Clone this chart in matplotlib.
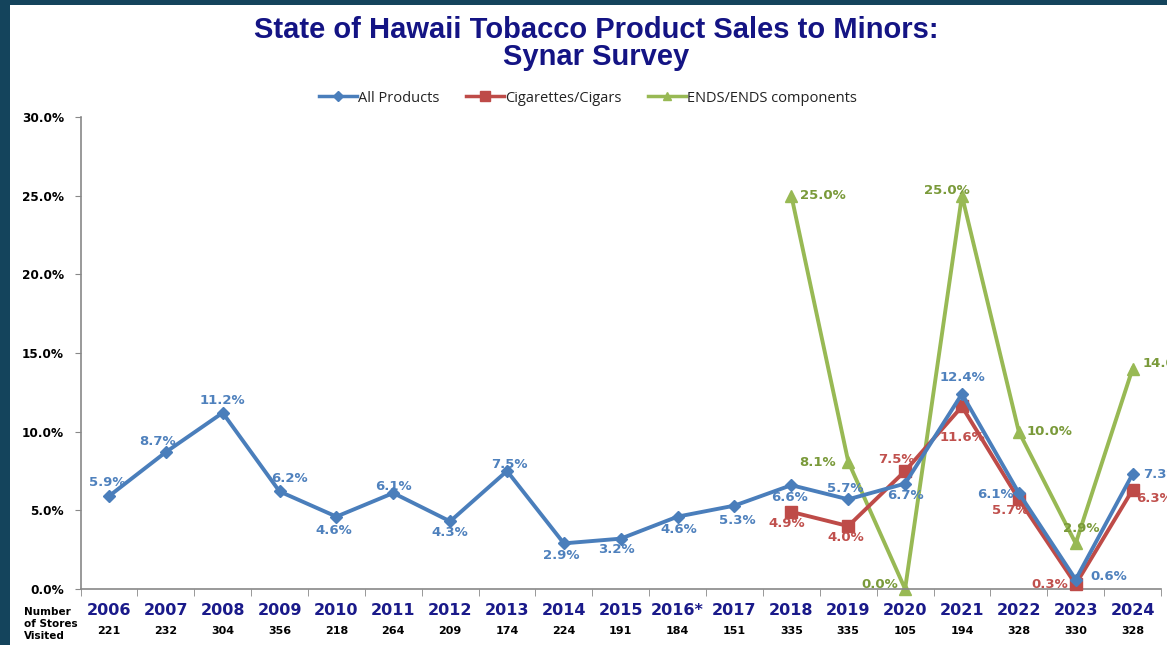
import matplotlib
matplotlib.use("Agg")
import matplotlib.pyplot as plt
from matplotlib.patches import Rectangle
import matplotlib.transforms as mtrans

years = ["2006", "2007", "2008", "2009", "2010", "2011", "2012", "2013", "2014",
         "2015", "2016*", "2017", "2018", "2019", "2020", "2021", "2022", "2023", "2024"]
stores = ["221", "232", "304", "356", "218", "264", "209", "174", "224",
          "191", "184", "151", "335", "335", "105", "194", "328", "330", "328"]
all_products = [5.9, 8.7, 11.2, 6.2, 4.6, 6.1, 4.3, 7.5, 2.9, 3.2, 4.6, 5.3,
                6.6, 5.7, 6.7, 12.4, 6.1, 0.6, 7.3]
cig_years = ["2018", "2019", "2020", "2021", "2022", "2023", "2024"]
cigarettes = [4.9, 4.0, 7.5, 11.6, 5.7, 0.3, 6.3]
ends = [25.0, 8.1, 0.0, 25.0, 10.0, 2.9, 14.0]
yticks = [0, 5, 10, 15, 20, 25, 30]

W, H = 1167, 645
fig = plt.figure(figsize=(W / 100, H / 100), dpi=100)
fig.patch.set_facecolor("white")
border = "#14445c"
fig.patches.append(Rectangle((0, 0), 10 / W, 1, transform=fig.transFigure,
                             facecolor=border, edgecolor="none", zorder=-10))
fig.patches.append(Rectangle((0, 1 - 5 / H), 1, 5 / H, transform=fig.transFigure,
                             facecolor=border, edgecolor="none", zorder=-10))

ax = fig.add_axes([80.5 / W, (H - 589) / H, (1161 - 80.5) / W, (589 - 117) / H])
ax.set_facecolor("none")

x_all = list(range(len(years)))
x_sub = [years.index(y) for y in cig_years]

c_blue, c_red, c_green = "#4a7ebb", "#be4b48", "#98b954"
t_blue, t_red, t_green = "#4f81bd", "#c0504d", "#7a9a3a"

ax.plot(x_all, all_products, color=c_blue, lw=2.8, marker="D", ms=6, label="All Products", zorder=4, clip_on=False)
ax.plot(x_sub, cigarettes, color=c_red, lw=2.8, marker="s", ms=8, label="Cigarettes/Cigars", zorder=3, clip_on=False)
ax.plot(x_sub, ends, color=c_green, lw=2.8, marker="^", ms=8, label="ENDS/ENDS components", zorder=2, clip_on=False)

ax.set_xlim(-0.5, len(years) - 0.5)
ax.set_ylim(0, 30)
ax.set_yticks(yticks)
ax.set_yticklabels([f"{v:.1f}%" for v in yticks], fontsize=8.7, fontweight="bold", family="DejaVu Sans")
ax.set_xticks(x_all)
ax.set_xticklabels(years, fontsize=11.5, fontweight="bold", color="#1a1a8a", family="DejaVu Sans")
ax.set_xticks([i - 0.5 for i in range(len(years) + 1)], minor=True)
ax.tick_params(axis="x", which="major", length=0, pad=10)
ax.tick_params(axis="x", which="minor", length=5, color="#888888", direction="out")
ax.tick_params(axis="y", length=4, color="#888888", direction="out", pad=8)
for s in ["top", "right"]:
    ax.spines[s].set_visible(False)
for s in ["left", "bottom"]:
    ax.spines[s].set_color("#888888")
    ax.spines[s].set_linewidth(1.2)

tr = mtrans.blended_transform_factory(ax.transData, fig.transFigure)
for i, s in enumerate(stores):
    ax.text(i, (H - 631) / H, s, transform=tr, ha="center", va="center",
            fontsize=8, fontweight="bold", family="DejaVu Sans")
fig.text(24 / W, (H - 624) / H, "Number\nof Stores\nVisited", ha="left", va="center",
         fontsize=7.5, fontweight="bold", family="DejaVu Sans", linespacing=1.25)

lab_kw = dict(fontsize=9.5, fontweight="bold", family="DejaVu Sans", annotation_clip=False)
ap_off = [(-1, 10), (-6, 8), (0, 9), (7, 9), (-2, -10), (0, 5), (0, -8), (2, 5), (-2, -9),
          (-3, -8), (1, -9), (2, -11), (-1, -9), (-2, 8), (0, -8.5), (0, 12), (-17, -1), (24, 2), (21, 0)]
for x, v, (dx, dy) in zip(x_all, all_products, ap_off):
    ax.annotate(f"{v:.1f}%", (x, v), xytext=(dx, dy), textcoords="offset points",
                ha="center", va="center", color=t_blue, **lab_kw)
cig_off = [(-3.5, -8), (-1.5, -8), (-6, 8), (0, -22), (-6.5, -8), (-19, 0), (16, -6)]
for x, v, (dx, dy) in zip(x_sub, cigarettes, cig_off):
    ax.annotate(f"{v:.1f}%", (x, v), xytext=(dx, dy), textcoords="offset points",
                ha="center", va="center", color=t_red, **lab_kw)
ends_off = [(23, 0), (-22, -1), (-18, 3), (-11, 4), (22, 0), (4, 11), (24, 4)]
for x, v, (dx, dy) in zip(x_sub, ends, ends_off):
    ax.annotate(f"{v:.1f}%", (x, v), xytext=(dx, dy), textcoords="offset points",
                ha="center", va="center", color=t_green, **lab_kw)

leg = fig.legend(loc="center", bbox_to_anchor=(588 / W, (H - 98) / H), ncol=3, frameon=False,
                 prop={"family": "Open Sans", "size": 10.5}, handlelength=2.6, columnspacing=1.8,
                 handletextpad=0.1)
for h, ms in zip(leg.legend_handles, [5, 7, 6]):
    h.set_markersize(ms)
    h.set_linewidth(2.5)
for t in leg.get_texts():
    t.set_color("#222222")

title_kw = dict(ha="center", va="center", fontsize=21, fontweight="bold", color="#141484",
                family="Liberation Sans")
fig.text(596 / W, (H - 30) / H, "State of Hawaii Tobacco Product Sales to Minors:", **title_kw)
fig.text(596 / W, (H - 57) / H, "Synar Survey", **title_kw)

fig.savefig("out.png", dpi=100, facecolor=fig.get_facecolor())
